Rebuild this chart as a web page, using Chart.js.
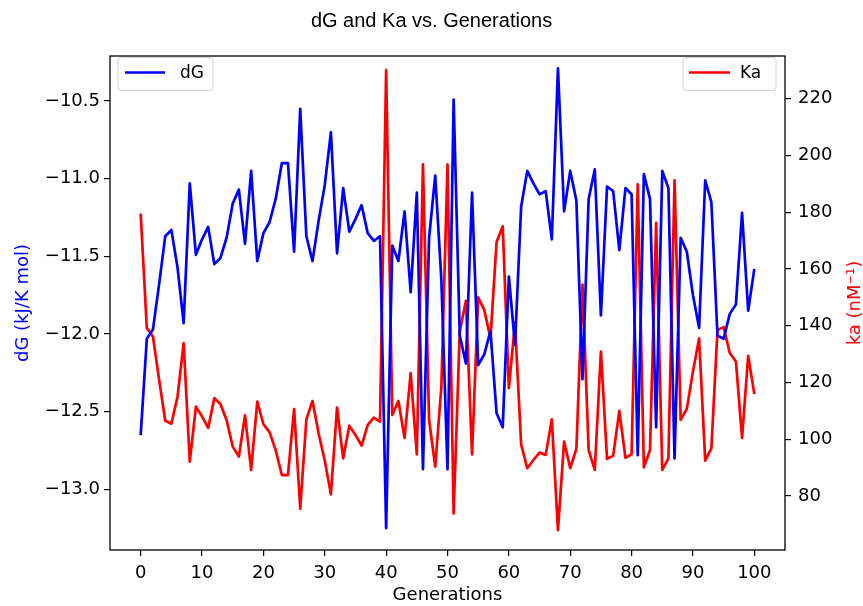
<!DOCTYPE html>
<html>
<head>
<meta charset="utf-8">
<title>dG and Ka vs. Generations</title>
<script src="https://cdn.jsdelivr.net/npm/chart.js@4.4.1/dist/chart.umd.min.js"></script>
<style>
  body { margin: 0; background: #fff; }
  canvas { display: block; }
</style>
</head>
<body>
<canvas id="myChart" width="863" height="606"></canvas>
<script>
// generations 0..100
let generations = [];
for (let g = 0; g <= 100; g++) generations.push(g);

// binding free energy per generation (kJ/K mol)
let dG = [
    -12.65, -12.03, -11.97, -11.68, -11.37, -11.33, -11.57, -11.93, -11.03, -11.49,
    -11.39, -11.31, -11.55, -11.51, -11.38, -11.16, -11.07, -11.42, -10.95, -11.53,
    -11.35, -11.28, -11.13, -10.90, -10.90, -11.47, -10.55, -11.37, -11.53, -11.27,
    -11.04, -10.70, -11.48, -11.06, -11.34, -11.26, -11.17, -11.35, -11.40, -11.37,
    -13.25, -11.43, -11.53, -11.21, -11.73, -11.09, -12.87, -11.38, -10.98, -11.65,
    -12.87, -10.49, -12.01, -12.19, -11.09, -12.20, -12.13, -11.98, -12.51, -12.60,
    -11.63, -12.07, -11.18, -10.95, -11.03, -11.10, -11.08, -11.39, -10.29, -11.21,
    -10.95, -11.14, -12.29, -11.13, -10.94, -11.88, -11.05, -11.08, -11.46, -11.06,
    -11.10, -12.78, -10.97, -11.13, -12.60, -10.95, -11.06, -12.80, -11.38, -11.47,
    -11.75, -11.96, -11.01, -11.15, -12.01, -12.03, -11.87, -11.81, -11.22, -11.85,
    -11.58
];

// association constant per generation (nM^-1)
let ka = [
    179.5, 139.2, 136.2, 121.0, 106.5, 105.5, 115.0, 133.9, 92.1, 111.5,
    108.0, 104.0, 114.5, 112.4, 106.8, 97.4, 93.9, 108.4, 89.2, 113.3,
    105.3, 102.5, 96.2, 87.4, 87.4, 110.6, 75.6, 107.0, 113.5, 102.0,
    92.5, 80.6, 111.2, 93.3, 104.8, 101.5, 97.8, 105.1, 107.6, 106.2,
    230.0, 108.6, 113.5, 100.5, 123.3, 94.7, 196.8, 106.8, 90.4, 118.5,
    196.8, 73.9, 138.0, 148.8, 94.7, 150.0, 145.5, 135.6, 169.5, 175.0,
    118.0, 141.0, 98.2, 89.8, 92.7, 95.3, 94.5, 107.0, 68.0, 99.2,
    89.8, 96.6, 154.5, 96.2, 89.2, 130.9, 93.1, 94.2, 110.0, 93.5,
    94.7, 189.8, 90.1, 96.2, 176.2, 89.2, 93.3, 191.2, 106.8, 110.7,
    123.9, 135.5, 92.5, 96.8, 138.5, 139.5, 130.4, 127.4, 100.5, 129.4,
    115.9
];

let genTicks = [0, 10, 20, 30, 40, 50, 60, 70, 80, 90, 100];
let dGTicks = [-13.0, -12.5, -12.0, -11.5, -11.0, -10.5];
let kaTicks = [80, 100, 120, 140, 160, 180, 200, 220];

let tickFont = {family: 'DejaVu Sans', size: 18};
let labelFont = {family: 'DejaVu Sans', size: 18};

function fixedTicks(values) {
    return function(scale) {
        scale.ticks = values.map(v => ({value: v}));
    };
}

function axisGrid() {
    return {drawOnChartArea: false, drawTicks: true, tickLength: 6, color: '#000', lineWidth: 1.2};
}

// box round the plot area
const frame = {
    id: 'frame',
    afterDatasetsDraw(chart) {
        const {ctx, chartArea: a} = chart;
        ctx.save();
        ctx.strokeStyle = '#000';
        ctx.lineWidth = 1.3;
        ctx.strokeRect(a.left, a.top, a.right - a.left, a.bottom - a.top);
        ctx.restore();
    }
};

// right axis title, reading bottom to top like the left one
const rightTitle = {
    id: 'rightTitle',
    afterDraw(chart) {
        const ctx = chart.ctx;
        const a = chart.chartArea;
        ctx.save();
        ctx.translate(855, (a.top + a.bottom) / 2);
        ctx.rotate(-Math.PI / 2);
        ctx.fillStyle = '#ff0000';
        ctx.font = '18px "DejaVu Sans"';
        ctx.textAlign = 'center';
        ctx.textBaseline = 'middle';
        ctx.fillText('ka (nM\u207B\u00B9)', 0, 0);
        ctx.restore();
    }
};

// one legend box per axis: dG top left, Ka top right
const cornerLegends = {
    id: 'cornerLegends',
    afterDraw(chart) {
        const ctx = chart.ctx;
        const boxes = [
            {x: 118, w: 95, text: 'dG', color: '#0000ff', line: [125, 165], tx: 180},
            {x: 683, w: 93, text: 'Ka', color: '#ff0000', line: [689, 730], tx: 740}
        ];
        const y = 57.5, h = 33, r = 3;
        ctx.save();
        boxes.forEach(b => {
            ctx.beginPath();
            ctx.moveTo(b.x + r, y);
            ctx.arcTo(b.x + b.w, y, b.x + b.w, y + h, r);
            ctx.arcTo(b.x + b.w, y + h, b.x, y + h, r);
            ctx.arcTo(b.x, y + h, b.x, y, r);
            ctx.arcTo(b.x, y, b.x + b.w, y, r);
            ctx.closePath();
            ctx.fillStyle = 'rgba(255,255,255,0.8)';
            ctx.fill();
            ctx.strokeStyle = '#d0d0d0';
            ctx.lineWidth = 1;
            ctx.stroke();

            ctx.beginPath();
            ctx.moveTo(b.line[0], y + 15);
            ctx.lineTo(b.line[1], y + 15);
            ctx.strokeStyle = b.color;
            ctx.lineWidth = 2.7;
            ctx.stroke();

            ctx.fillStyle = '#000';
            ctx.font = '17px "DejaVu Sans"';
            ctx.textBaseline = 'middle';
            ctx.fillText(b.text, b.tx, y + 16);
        });
        ctx.restore();
    }
};

let myChart = document.getElementById('myChart').getContext('2d');

let userChart = new Chart(myChart, {
    type: 'line',
    data: {
        datasets: [{
            label: 'dG',
            data: generations.map((g, i) => ({x: g, y: dG[i]})),
            borderColor: '#0000ff',
            borderWidth: 2.7,
            borderJoinStyle: 'round',
            pointRadius: 0,
            tension: 0,
            yAxisID: 'y'
        }, {
            label: 'Ka',
            data: generations.map((g, i) => ({x: g, y: ka[i]})),
            borderColor: '#ff0000',
            borderWidth: 2.7,
            borderJoinStyle: 'round',
            pointRadius: 0,
            tension: 0,
            yAxisID: 'y1'
        }]
    },
    options: {
        responsive: false,
        animation: false,
        events: [],
        layout: {padding: 0},
        plugins: {
            legend: {display: false},
            tooltip: {enabled: false},
            title: {
                display: true,
                text: 'dG and Ka vs. Generations',
                color: '#000',
                font: {family: 'Liberation Sans', size: 20, weight: 'normal'},
                padding: {top: 9, bottom: 23}
            }
        },
        scales: {
            x: {
                type: 'linear',
                position: 'bottom',
                min: -5,
                max: 105,
                afterBuildTicks: fixedTicks(genTicks),
                afterFit: s => { s.height = 56; },
                grid: axisGrid(),
                border: {display: false},
                ticks: {font: tickFont, color: '#000', padding: 7, maxRotation: 0, autoSkip: false},
                title: {display: true, text: 'Generations', color: '#000', font: labelFont, padding: {top: 0, bottom: 0}}
            },
            y: {
                position: 'left',
                min: -13.39,
                max: -10.21,
                afterBuildTicks: fixedTicks(dGTicks),
                afterFit: s => { s.width = 110; },
                grid: axisGrid(),
                border: {display: false},
                ticks: {
                    font: tickFont, color: '#000', padding: 4,
                    callback: v => v.toFixed(1).replace('-', '\u2212')
                },
                title: {display: true, text: 'dG (kJ/K mol)', color: '#0000ff', font: labelFont, padding: {top: 13}}
            },
            y1: {
                position: 'right',
                min: 61,
                max: 235,
                afterBuildTicks: fixedTicks(kaTicks),
                afterFit: s => { s.width = 78; },
                grid: axisGrid(),
                border: {display: false},
                ticks: {font: tickFont, color: '#000', padding: 7},
                title: {display: false}
            }
        }
    },
    plugins: [frame, rightTitle, cornerLegends]
});
</script>
</body>
</html>
